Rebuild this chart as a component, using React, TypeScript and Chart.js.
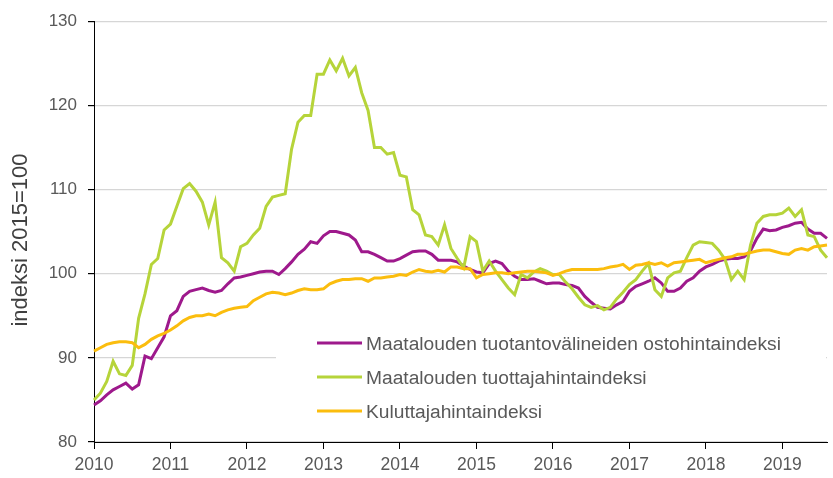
import React, { useEffect, useRef } from 'react';
import { Chart, registerables } from 'chart.js';

Chart.register(...registerables);

// Tick labels (one per year, first month of each year)
const years = ['2010', '2011', '2012', '2013', '2014', '2015', '2016', '2017', '2018', '2019'];

const seriesNames = [
  'Maatalouden tuotantovälineiden ostohintaindeksi',
  'Maatalouden tuottajahintaindeksi',
  'Kuluttajahintaindeksi',
];

const yTitle = 'indeksi 2015=100';

// Monthly values, Jan 2010 – Aug 2019
const purchasePriceIndex = [
  84.4, 84.9, 85.6, 86.2, 86.6, 87.0, 86.3, 86.8, 90.2, 89.9, 91.2, 92.5,
  95.0, 95.6, 97.3, 97.9, 98.1, 98.3, 98.0, 97.8, 98.0, 98.8, 99.5, 99.6,
  99.8, 100.0, 100.2, 100.3, 100.3, 99.9, 100.6, 101.4, 102.3, 102.9, 103.8, 103.6,
  104.5, 105.0, 105.0, 104.8, 104.6, 104.0, 102.6, 102.6, 102.3, 101.9, 101.5, 101.5,
  101.8, 102.2, 102.6, 102.7, 102.7, 102.3, 101.6, 101.6, 101.6, 101.4, 100.9, 100.5,
  100.2, 100.1, 101.2, 101.5, 101.2, 100.3, 99.7, 99.3, 99.3, 99.4, 99.1, 98.8,
  98.9, 98.9, 98.7, 98.6, 98.3, 97.3, 96.6, 96.0, 95.9, 95.8, 96.3, 96.7,
  97.9, 98.5, 98.8, 99.1, 99.5, 98.9, 97.9, 97.9, 98.3, 99.1, 99.5, 100.3,
  100.8, 101.1, 101.5, 101.7, 101.8, 101.8, 102.0, 102.7, 104.2, 105.3, 105.1, 105.2,
  105.5, 105.7, 106.0, 106.1, 105.3, 104.8, 104.8, 104.2,
];

const producerPriceIndex = [
  85.0, 85.8, 87.2, 89.6, 88.1, 87.9, 89.1, 94.7, 97.6, 101.1, 101.8, 105.2,
  105.9, 108.0, 110.1, 110.7, 109.8, 108.5, 105.8, 108.5, 101.9, 101.3, 100.3, 103.2,
  103.6, 104.6, 105.4, 108.0, 109.1, 109.3, 109.5, 114.8, 118.0, 118.8, 118.8, 123.7,
  123.7, 125.4, 124.1, 125.6, 123.5, 124.5, 121.5, 119.4, 115.0, 115.0, 114.2, 114.4,
  111.7, 111.5, 107.6, 107.0, 104.6, 104.4, 103.4, 105.8, 103.0, 101.8, 100.7, 104.4,
  103.8, 100.3, 101.5, 100.3, 99.3, 98.3, 97.5, 99.9, 99.5, 100.2, 100.6, 100.3,
  99.9, 99.9, 99.0, 98.2, 97.2, 96.3, 96.0, 96.2, 95.7, 96.0, 97.0, 97.8,
  98.7, 99.3, 100.3, 101.2, 98.1, 97.3, 99.5, 100.1, 100.3, 101.9, 103.4, 103.8,
  103.7, 103.6, 102.8, 101.7, 99.3, 100.3, 99.3, 103.4, 106.0, 106.8, 107.0, 107.0,
  107.2, 107.8, 106.8, 107.6, 104.6, 104.4, 102.8, 101.9,
];

const consumerPriceIndex = [
  90.8, 91.2, 91.6, 91.8, 91.9, 91.9, 91.8, 91.2, 91.6, 92.2, 92.6, 92.9,
  93.3, 93.8, 94.4, 94.8, 95.0, 95.0, 95.2, 95.0, 95.4, 95.7, 95.9, 96.0,
  96.1, 96.8, 97.2, 97.6, 97.8, 97.7, 97.5, 97.7, 98.0, 98.2, 98.1, 98.1,
  98.2, 98.8, 99.1, 99.3, 99.3, 99.4, 99.4, 99.1, 99.5, 99.5, 99.6, 99.7,
  99.9, 99.8, 100.2, 100.5, 100.3, 100.2, 100.4, 100.2, 100.8, 100.8, 100.6, 100.6,
  99.5, 99.9, 100.0, 100.1, 100.1, 100.0, 100.1, 100.2, 100.3, 100.3, 100.2, 100.1,
  99.8, 100.0, 100.3, 100.5, 100.5, 100.5, 100.5, 100.5, 100.6, 100.8, 100.9, 101.1,
  100.5, 101.0, 101.1, 101.3, 101.1, 101.3, 100.9, 101.3, 101.4, 101.5, 101.6, 101.7,
  101.3, 101.5, 101.7, 101.9, 102.0, 102.3, 102.3, 102.5, 102.7, 102.8, 102.8, 102.6,
  102.4, 102.3, 102.8, 103.0, 102.8, 103.2, 103.3, 103.4,
];

const seriesColors = ['#9e198c', '#b6d43a', '#fbbd0e'];

const FONT = "'Liberation Sans', Arial, sans-serif";
const TEXT_GRAY = '#595959';

const monthLabels = purchasePriceIndex.map(
  (_, i) => `${years[Math.floor(i / 12)]}-${String((i % 12) + 1).padStart(2, '0')}`
);

const overlayPlugin = {
  id: 'overlay',
  beforeDatasetsDraw(chart: any) {
    const ctx = chart.ctx;
    ctx.save();
    ctx.fillStyle = '#ffffff';
    ctx.fillRect(276, 322, 550, 108);
    ctx.restore();
  },
  afterDraw(chart: any) {
    const ctx = chart.ctx;
    ctx.save();
    // legend
    const rows = [343, 377, 411];
    seriesNames.forEach((name, i) => {
      ctx.strokeStyle = seriesColors[i];
      ctx.lineWidth = 3;
      ctx.beginPath();
      ctx.moveTo(317, rows[i]);
      ctx.lineTo(362, rows[i]);
      ctx.stroke();
      ctx.fillStyle = TEXT_GRAY;
      ctx.font = `19.2px ${FONT}`;
      ctx.textAlign = 'left';
      ctx.textBaseline = 'alphabetic';
      ctx.fillText(name, 366, rows[i] + 7);
    });
    // y-axis title
    ctx.translate(21, 240);
    ctx.rotate(-Math.PI / 2);
    ctx.fillStyle = '#404040';
    ctx.font = `22px ${FONT}`;
    ctx.textAlign = 'center';
    ctx.textBaseline = 'middle';
    ctx.fillText(yTitle, 0, 0);
    ctx.restore();
  },
};

export default function App() {
  const canvasRef = useRef<HTMLCanvasElement | null>(null);

  useEffect(() => {
    if (!canvasRef.current) return;
    const datasets = [purchasePriceIndex, producerPriceIndex, consumerPriceIndex].map((data, i) => ({
      label: seriesNames[i],
      data,
      borderColor: seriesColors[i],
      backgroundColor: seriesColors[i],
      borderWidth: 3,
      pointRadius: 0,
      tension: 0,
      fill: false,
      order: 3 - i,
    }));
    const chart = new Chart(canvasRef.current, {
      type: 'line',
      data: { labels: monthLabels, datasets },
      plugins: [overlayPlugin],
      options: {
        responsive: false,
        animation: false,
        layout: { padding: { top: 18, right: 0, bottom: 0, left: 0 } },
        plugins: { legend: { display: false }, tooltip: { enabled: false } },
        scales: {
          x: {
            type: 'category',
            offset: false,
            grid: {
              drawOnChartArea: false,
              drawTicks: true,
              tickLength: 7,
              tickColor: (ctx: any) => (ctx.index % 12 === 0 ? '#000000' : 'rgba(0,0,0,0)'),
            },
            border: { color: '#000000', width: 1 },
            ticks: {
              autoSkip: false,
              maxRotation: 0,
              minRotation: 0,
              padding: 6,
              color: TEXT_GRAY,
              font: { family: FONT, size: 17.5 },
              callback: (_v: any, i: number) => (i % 12 === 0 ? years[i / 12] : ''),
            },
            afterFit: (s: any) => {
              s.height = 36;
            },
          },
          y: {
            min: 80,
            max: 130,
            grid: { color: '#d6d6d6', lineWidth: 1.2, drawTicks: true, tickLength: 6, tickColor: '#000000' },
            border: { color: '#000000', width: 1 },
            ticks: {
              stepSize: 10,
              padding: 11,
              color: TEXT_GRAY,
              font: { family: FONT, size: 17 },
            },
            afterFit: (s: any) => {
              s.width = 94;
            },
          },
        },
      },
    });
    return () => chart.destroy();
  }, []);

  return (
    <div style={{ position: 'fixed', left: 0, top: 0, width: 833, height: 478, background: '#fff' }}>
      <canvas ref={canvasRef} width={833} height={478} style={{ display: 'block' }} />
    </div>
  );
}
